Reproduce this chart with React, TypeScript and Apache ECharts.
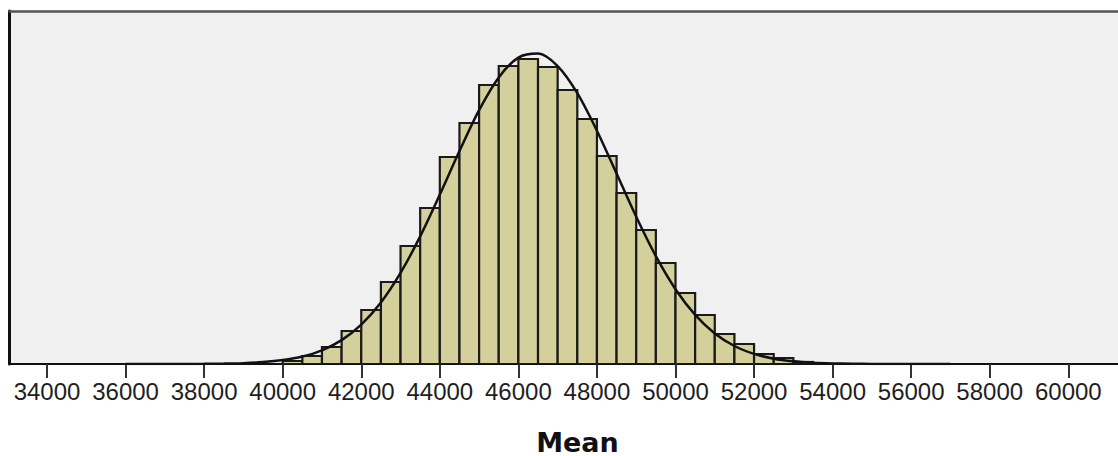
import React, { useEffect, useRef } from "react";
import * as echarts from "echarts";

// Histogram bins (bin start, width 500) and bar heights (frequency)
const BIN_WIDTH = 500;
const BIN_STARTS = [
  40000, 40500, 41000, 41500, 42000, 42500, 43000, 43500, 44000, 44500, 45000,
  45500, 46000, 46500, 47000, 47500, 48000, 48500, 49000, 49500, 50000, 50500,
  51000, 51500, 52000, 52500, 53000,
];
const BIN_COUNTS = [
  3, 8, 17, 33, 54, 82, 118, 156, 207, 241, 279, 298, 305, 297, 274, 245, 208,
  171, 134, 101, 71, 49, 30, 20, 10, 6, 2,
];

// Fitted normal curve
const CURVE_X = [
  36000, 36500, 37000, 37500, 38000, 38500, 39000, 39500, 40000, 40500, 41000,
  41500, 42000, 42500, 43000, 43500, 44000, 44500, 45000, 45500, 46000, 46500,
  47000, 47500, 48000, 48500, 49000, 49500, 50000, 50500, 51000, 51500, 52000,
  52500, 53000, 53500, 54000, 54500, 55000, 55500, 56000, 56500, 57000,
];
const CURVE_Y = [
  0, 0, 0.02, 0.06, 0.16, 0.38, 0.87, 1.9, 3.9, 7.5, 13.7, 23.9, 39.4, 61.5,
  91.1, 127.6, 169.4, 213, 253.9, 286.6, 306.4, 310.4, 297.9, 270.9, 233.3,
  190.4, 147.2, 107.8, 74.8, 49.1, 30.6, 18.0, 10.1, 5.3, 2.7, 1.3, 0.6, 0.24,
  0.1, 0.03, 0.01, 0, 0,
];

const X_TICKS = [
  34000, 36000, 38000, 40000, 42000, 44000, 46000, 48000, 50000, 52000, 54000,
  56000, 58000, 60000,
];
const X_MIN = 33045;
const X_MAX = 61265;
const Y_MAX = 353;
const AXIS_TITLE = "Mean";

export default function App() {
  const ref = useRef<HTMLDivElement>(null);

  useEffect(() => {
    document.body.style.margin = "0";
    if (!ref.current) return;
    const chart = echarts.init(ref.current, undefined, { renderer: "svg" });

    const binData = BIN_STARTS.map((s, i) => [s, BIN_COUNTS[i]]);
    const curveData = CURVE_X.map((x, i) => [x, CURVE_Y[i]]);

    chart.setOption({
      animation: false,
      backgroundColor: "#ffffff",
      grid: {
        left: 9.5,
        right: 0,
        top: 11,
        bottom: 92,
        show: true,
        backgroundColor: "#f0f0f0",
        borderWidth: 0,
      },
      xAxis: [
        {
          type: "value",
          min: X_MIN,
          max: X_MAX,
          position: "bottom",
          axisLine: { show: true, lineStyle: { color: "#111", width: 2 } },
          axisTick: {
            show: true,
            customValues: X_TICKS,
            length: 14,
            lineStyle: { color: "#333", width: 2 },
          },
          axisLabel: {
            customValues: X_TICKS,
            formatter: (v: number) => String(v),
            fontFamily: "Liberation Sans, Arial, sans-serif",
            fontSize: 24,
            color: "#1e1e1e",
            margin: 15,
          },
          splitLine: { show: false },
        },
        {
          type: "value",
          min: X_MIN,
          max: X_MAX,
          position: "top",
          axisLine: { show: true, lineStyle: { color: "#555", width: 2.5 } },
          axisTick: { show: false },
          axisLabel: { show: false },
          splitLine: { show: false },
        },
      ],
      yAxis: {
        type: "value",
        min: 0,
        max: Y_MAX,
        axisLine: { show: true, lineStyle: { color: "#111", width: 3 } },
        axisTick: { show: false },
        axisLabel: { show: false },
        splitLine: { show: false },
      },
      graphic: [
        {
          type: "text",
          x: 577.5,
          y: 442,
          style: {
            text: AXIS_TITLE,
            fontFamily: "DejaVu Sans, sans-serif",
            fontWeight: "bold",
            fontSize: 27,
            fill: "#111",
            textAlign: "center",
            textVerticalAlign: "middle",
          },
        },
      ],
      series: [
        {
          type: "custom",
          xAxisIndex: 0,
          clip: true,
          encode: { x: 0, y: 1 },
          data: binData,
          renderItem: (params: any, api: any) => {
            const s = api.value(0);
            const c = api.value(1);
            const p0 = api.coord([s, c]);
            const p1 = api.coord([s + BIN_WIDTH, 0]);
            return {
              type: "rect",
              shape: {
                x: p0[0],
                y: p0[1],
                width: p1[0] - p0[0],
                height: p1[1] - p0[1],
              },
              style: {
                fill: "#d4d09b",
                stroke: "#1a1a1a",
                lineWidth: 2.2,
              },
            };
          },
          z: 2,
        },
        {
          type: "line",
          xAxisIndex: 0,
          data: curveData,
          smooth: 0.3,
          showSymbol: false,
          symbol: "none",
          lineStyle: { color: "#111", width: 2.5 },
          z: 3,
        },
      ],
    });

    return () => chart.dispose();
  }, []);

  return <div ref={ref} style={{ width: 1118, height: 456 }} />;
}
